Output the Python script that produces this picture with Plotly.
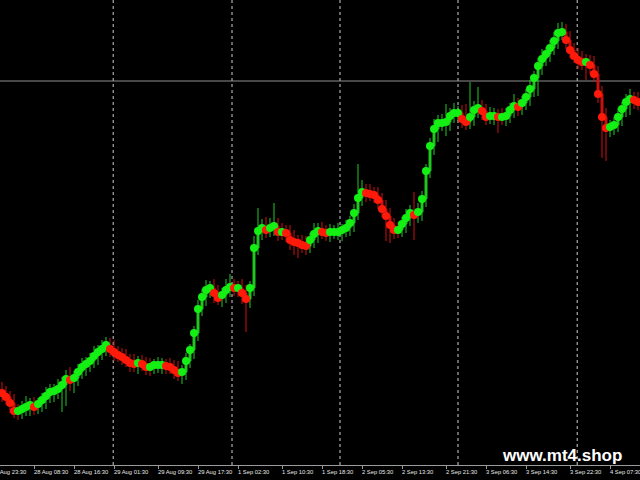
import plotly.graph_objects as go

# ---- data (M30-like bars, price units) ----
closes = [
    1.0867, 1.0863, 1.0857, 1.0849, 1.0849, 1.0851, 1.0853, 1.0855, 1.0853, 1.0856,
    1.0860, 1.0864, 1.0868, 1.0869, 1.0871, 1.0875, 1.0881, 1.0880, 1.0882, 1.0888,
    1.0893, 1.0896, 1.0899, 1.0904, 1.0908, 1.0911, 1.0915, 1.0911, 1.0908, 1.0905,
    1.0903, 1.0900, 1.0897, 1.0896, 1.0897, 1.0896, 1.0893, 1.0893, 1.0895, 1.0895,
    1.0895, 1.0894, 1.0893, 1.0890, 1.0887, 1.0888, 1.0899, 1.0910, 1.0927, 1.0951,
    1.0963, 1.0970, 1.0972, 1.0967, 1.0962, 1.0965, 1.0970, 1.0973, 1.0972, 1.0972,
    1.0967, 1.0961, 1.0972, 1.1012, 1.1029, 1.1032, 1.1030, 1.1032, 1.1034, 1.1028,
    1.1028, 1.1027, 1.1020, 1.1018, 1.1017, 1.1015, 1.1014, 1.1020, 1.1026, 1.1029,
    1.1028, 1.1027, 1.1028, 1.1028, 1.1028, 1.1030, 1.1032, 1.1037, 1.1047, 1.1062,
    1.1068, 1.1067, 1.1066, 1.1065, 1.1060, 1.1051, 1.1044, 1.1035, 1.1030, 1.1030,
    1.1036, 1.1042, 1.1047, 1.1045, 1.1048, 1.1061, 1.1089, 1.1114, 1.1131, 1.1137,
    1.1137, 1.1138, 1.1144, 1.1147, 1.1147, 1.1141, 1.1138, 1.1143, 1.1150, 1.1152,
    1.1149, 1.1143, 1.1144, 1.1144, 1.1143, 1.1143, 1.1144, 1.1150, 1.1154, 1.1153,
    1.1157, 1.1163, 1.1171, 1.1182, 1.1194, 1.1201, 1.1206, 1.1212, 1.1219, 1.1227,
    1.1228, 1.1220, 1.1210, 1.1204, 1.1200, 1.1198, 1.1198, 1.1195, 1.1186, 1.1166,
    1.1143, 1.1132, 1.1133, 1.1135, 1.1143, 1.1151, 1.1158, 1.1161, 1.1160, 1.1158,
]
first_open = 1.0870

# upper / lower wick lengths in points (0.0001)
wick_up = [
    8, 7, 6, 9, 7, 8, 11, 7, 8, 6,
    7, 9, 8, 7, 10, 8, 9, 12, 7, 8,
    9, 7, 8, 10, 7, 9, 8, 7, 9, 6,
    7, 8, 6, 9, 7, 8, 7, 9, 6, 8,
    7, 6, 8, 7, 9, 7, 8, 6, 7, 9,
    8, 10, 7, 9, 8, 7, 11, 13, 8, 7,
    9, 8, 7, 12, 23, 9, 11, 10, 23, 8,
    9, 7, 8, 10, 7, 8, 9, 7, 11, 8,
    9, 7, 8, 7, 9, 6, 8, 7, 9, 34,
    12, 8, 9, 7, 8, 7, 9, 8, 7, 8,
    7, 9, 8, 21, 9, 8, 7, 8, 10, 8,
    9, 18, 8, 10, 7, 8, 15, 35, 9, 21,
    8, 7, 9, 8, 7, 9, 8, 7, 12, 8,
    7, 8, 9, 7, 8, 10, 7, 8, 9, 10,
    10, 8, 9, 7, 8, 9, 8, 7, 9, 8,
    8, 9, 7, 8, 9, 7, 8, 10, 7, 8,
]
wick_dn = [
    9, 8, 10, 7, 9, 8, 7, 9, 8, 7,
    8, 9, 7, 10, 8, 23, 21, 11, 13, 8,
    7, 9, 8, 7, 9, 8, 7, 8, 9, 7,
    8, 7, 9, 8, 10, 7, 8, 9, 7, 8,
    9, 8, 7, 9, 8, 11, 8, 7, 9, 8,
    7, 9, 8, 10, 7, 9, 8, 7, 8, 9,
    11, 33, 9, 8, 7, 9, 8, 7, 8, 9,
    8, 9, 10, 13, 15, 8, 9, 7, 8, 9,
    7, 8, 9, 7, 8, 9, 7, 8, 9, 7,
    8, 9, 7, 8, 9, 8, 25, 18, 9, 8,
    7, 9, 8, 25, 8, 9, 8, 7, 9, 13,
    8, 13, 9, 7, 8, 9, 8, 7, 9, 8,
    9, 8, 7, 9, 16, 8, 9, 7, 8, 9,
    8, 7, 9, 8, 18, 9, 7, 8, 7, 8,
    7, 9, 8, 7, 9, 8, 18, 9, 8, 9,
    41, 33, 9, 8, 7, 9, 8, 13, 9, 8,
]

tick_bars = [8, 18, 28, 39, 49, 59, 70, 80, 90, 100, 111, 121, 131, 142, 152]
tick_labels = ["28 Aug 08:30", "28 Aug 16:30", "29 Aug 01:30", "29 Aug 09:30",
               "29 Aug 17:30", "1 Sep 02:30", "1 Sep 10:30", "1 Sep 18:30",
               "2 Sep 05:30", "2 Sep 13:30", "2 Sep 21:30", "3 Sep 06:30",
               "3 Sep 14:30", "3 Sep 22:30", "4 Sep 07:30"]
first_label = "27 Aug 23:30"
grid_bars = [27.8, 57.5, 84.5, 114.0, 143.8]
hline_price = 1.1179
watermark = "www.mt4.shop"

# ---- derived ----
n = len(closes)
idx = list(range(n))
opens = [first_open] + closes[:-1]
highs = [max(o, c) + u * 0.0001 for o, c, u in zip(opens, closes, wick_up)]
lows = [min(o, c) - d * 0.0001 for o, c, d in zip(opens, closes, wick_dn)]

GREEN = "#14f014"
RED = "#ff1a0a"
dot_colors = [GREEN if c >= o else RED for o, c in zip(opens, closes)]

fig = go.Figure()
fig.add_trace(go.Candlestick(
    x=idx, open=opens, high=highs, low=lows, close=closes,
    increasing=dict(line=dict(color="#22c822", width=1), fillcolor="#22c822"),
    decreasing=dict(line=dict(color="#d01010", width=1), fillcolor="#d01010"),
    whiskerwidth=0, hoverinfo="skip", showlegend=False,
))
fig.add_trace(go.Scatter(
    x=idx, y=closes, mode="markers",
    marker=dict(size=8, color=dot_colors, line=dict(width=0)),
    hoverinfo="skip", showlegend=False,
))

shapes = []
for gx in grid_bars:
    shapes.append(dict(type="line", xref="x", yref="paper", x0=gx, x1=gx, y0=0, y1=1,
                       line=dict(color="#cfcfcf", width=1, dash="dot"), layer="below"))
shapes.append(dict(type="line", xref="paper", yref="y", x0=0, x1=1,
                   y0=hline_price, y1=hline_price,
                   line=dict(color="#8f8f8f", width=1), layer="below"))

annotations = []
lab_font = dict(family="Liberation Sans, Arial", size=5.8, color="#e8e8e8")
for tb, tl in zip(tick_bars, tick_labels):
    annotations.append(dict(x=tb, y=0, xref="x", yref="paper", text=tl, showarrow=False,
                            xanchor="left", yanchor="top", xshift=-2, yshift=-2,
                            font=lab_font))
annotations.append(dict(x=-10 / 640, y=0, xref="paper", yref="paper", text=first_label,
                        showarrow=False, xanchor="left", yanchor="top", yshift=-2,
                        font=lab_font))
annotations.append(dict(x=561.5 / 640, y=(465 - 455) / 465, xref="paper", yref="paper",
                        text="<b>" + watermark + "</b>", showarrow=False,
                        xanchor="center", yanchor="middle",
                        font=dict(family="Liberation Sans, Arial", size=17, color="#ffffff")))

fig.update_layout(
    width=640, height=480,
    margin=dict(l=0, r=0, t=0, b=15),
    paper_bgcolor="#000000", plot_bgcolor="#000000",
    shapes=shapes, annotations=annotations,
    hovermode=False, showlegend=False,
    xaxis=dict(range=[-0.5, n - 0.5], showgrid=False, zeroline=False,
               showline=True, linecolor="#9a9a9a", linewidth=1,
               ticks="outside", ticklen=3, tickcolor="#9a9a9a",
               tickvals=tick_bars, showticklabels=False,
               rangeslider=dict(visible=False), fixedrange=True),
    yaxis=dict(range=[1.0795, 1.1260], visible=False, showgrid=False,
               zeroline=False, fixedrange=True),
)

fig.write_html(
    "out.html",
    config={"displayModeBar": False},
    post_script="document.body.style.margin='0';document.body.style.background='#000';"
                "document.documentElement.style.overflow='hidden';",
)
